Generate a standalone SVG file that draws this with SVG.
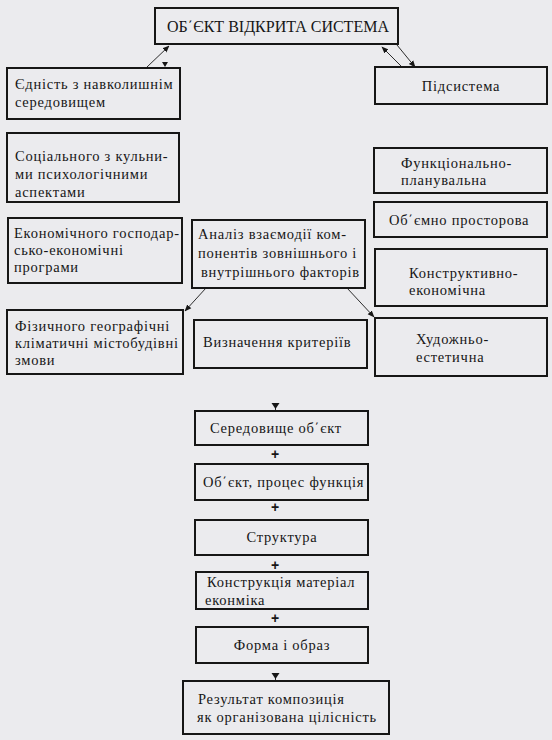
<svg xmlns="http://www.w3.org/2000/svg" width="552" height="740" viewBox="0 0 552 740" font-family="'Liberation Serif', serif">
<defs>
<style>
.bx{fill:none;stroke:#161616;stroke-width:2}
.t{font-size:14.5px;fill:#161616;letter-spacing:0.75px}
.m{text-anchor:middle}
.p{font-family:'Liberation Sans',sans-serif;font-size:14px;font-weight:bold;fill:#161616;text-anchor:middle}
.c{stroke:#161616;stroke-width:0.9;fill:none}
.h{fill:#161616}
</style>
<marker id="ah" viewBox="0 0 10 10" refX="9" refY="5" markerWidth="7" markerHeight="7" orient="auto" markerUnits="userSpaceOnUse">
<path d="M0,1 L10,5 L0,9 z" fill="#161616"/>
</marker>
</defs>
<rect width="552" height="740" fill="#ebebee"/>

<g id="connectors">
<line class="c" x1="147" y1="67" x2="169" y2="46" marker-end="url(#ah)"/>
<path class="h" d="M162,62 L168,62 L165,67 z"/>
<line class="c" x1="402" y1="67" x2="382" y2="47" marker-end="url(#ah)"/>
<line class="c" x1="397" y1="45" x2="415" y2="67" marker-end="url(#ah)"/>
<line class="c" x1="206" y1="288" x2="185" y2="311" marker-end="url(#ah)"/>
<line class="c" x1="347" y1="288" x2="374" y2="317" marker-end="url(#ah)"/>
<line class="c" x1="275.5" y1="404" x2="275.5" y2="411"/>
<path class="h" d="M271.5,403 L279.5,403 L275.5,409 z"/>
<line class="c" x1="275.5" y1="674" x2="275.5" y2="681"/>
<path class="h" d="M271.5,673 L279.5,673 L275.5,679 z"/>
<text class="p" x="275" y="459">+</text>
<text class="p" x="275" y="512">+</text>
<text class="p" x="275" y="570">+</text>
<text class="p" x="275" y="623">+</text>
</g>

<g id="n_title">
<rect class="bx" x="155" y="8" width="243" height="36"/>
<text class="t m" x="278" y="32" style="font-size:16px;letter-spacing:0px">ОБ΄ЄКТ ВІДКРИТА СИСТЕМА</text>
</g>
<g id="n_ednist">
<rect class="bx" x="7" y="68" width="173" height="51"/>
<text class="t" x="15" y="89">Єдність з навколишнім</text>
<text class="t" x="15" y="107">середовищем</text>
</g>
<g id="n_pidsystema">
<rect class="bx" x="375" y="67" width="172" height="37"/>
<text class="t m" x="461" y="91">Підсистема</text>
</g>
<g id="n_socialnogo">
<rect class="bx" x="7" y="133" width="172" height="69"/>
<text class="t" x="15" y="161">Соціального з кульни-</text>
<text class="t" x="15" y="179">ми психологічними</text>
<text class="t" x="15" y="197">аспектами</text>
</g>
<g id="n_ekonomichnogo">
<rect class="bx" x="8" y="218" width="174" height="65"/>
<text class="t" x="14" y="238">Економічного господар-</text>
<text class="t" x="14" y="255">сько-економічні</text>
<text class="t" x="14" y="272">програми</text>
</g>
<g id="n_analiz">
<rect class="bx" x="192" y="220" width="173" height="68"/>
<text class="t" x="198" y="239">Аналіз взаємодії ком-</text>
<text class="t" x="198" y="258">понентів зовнішнього і</text>
<text class="t" x="201" y="277">внутрішнього факторів</text>
</g>
<g id="n_fizychnogo">
<rect class="bx" x="7" y="310" width="176" height="64"/>
<text class="t" x="15" y="331">Фізичного географічні</text>
<text class="t" x="15" y="348">кліматичні містобудівні</text>
<text class="t" x="15" y="365">змови</text>
</g>
<g id="n_vyznachennia">
<rect class="bx" x="194" y="320" width="173" height="48"/>
<text class="t" x="203" y="347">Визначення критеріїв</text>
</g>
<g id="n_funkcionalno">
<rect class="bx" x="374" y="148" width="173" height="45"/>
<text class="t" x="401" y="168">Функціонально-</text>
<text class="t" x="401" y="185">планувальна</text>
</g>
<g id="n_objemno">
<rect class="bx" x="374" y="202" width="173" height="35"/>
<text class="t" x="389" y="225">Об΄ємно просторова</text>
</g>
<g id="n_konstruktyvno">
<rect class="bx" x="375" y="249" width="172" height="57"/>
<text class="t" x="409" y="278">Конструктивно-</text>
<text class="t" x="409" y="295">економічна</text>
</g>
<g id="n_hudozhno">
<rect class="bx" x="375" y="318" width="172" height="58"/>
<text class="t" x="416" y="344">Художньо-</text>
<text class="t" x="416" y="362">естетична</text>
</g>
<g id="n_seredovyshche">
<rect class="bx" x="195" y="411" width="173" height="34"/>
<text class="t" x="210" y="433">Середовище об΄єкт</text>
</g>
<g id="n_objekt">
<rect class="bx" x="195" y="464" width="173" height="36"/>
<text class="t" x="203" y="487">Об΄єкт, процес функція</text>
</g>
<g id="n_struktura">
<rect class="bx" x="195" y="520" width="173" height="35"/>
<text class="t m" x="282" y="542">Структура</text>
</g>
<g id="n_konstrukciia">
<rect class="bx" x="196" y="572" width="172" height="37"/>
<text class="t" x="207" y="587">Конструкція матеріал</text>
<text class="t" x="205" y="605">еконміка</text>
</g>
<g id="n_forma">
<rect class="bx" x="196" y="627" width="172" height="36"/>
<text class="t m" x="282" y="650">Форма і образ</text>
</g>
<g id="n_rezultat">
<rect class="bx" x="183" y="681" width="206" height="53"/>
<text class="t" x="198" y="704">Результат композиція</text>
<text class="t" x="197" y="722">як організована цілісність</text>
</g>
</svg>
